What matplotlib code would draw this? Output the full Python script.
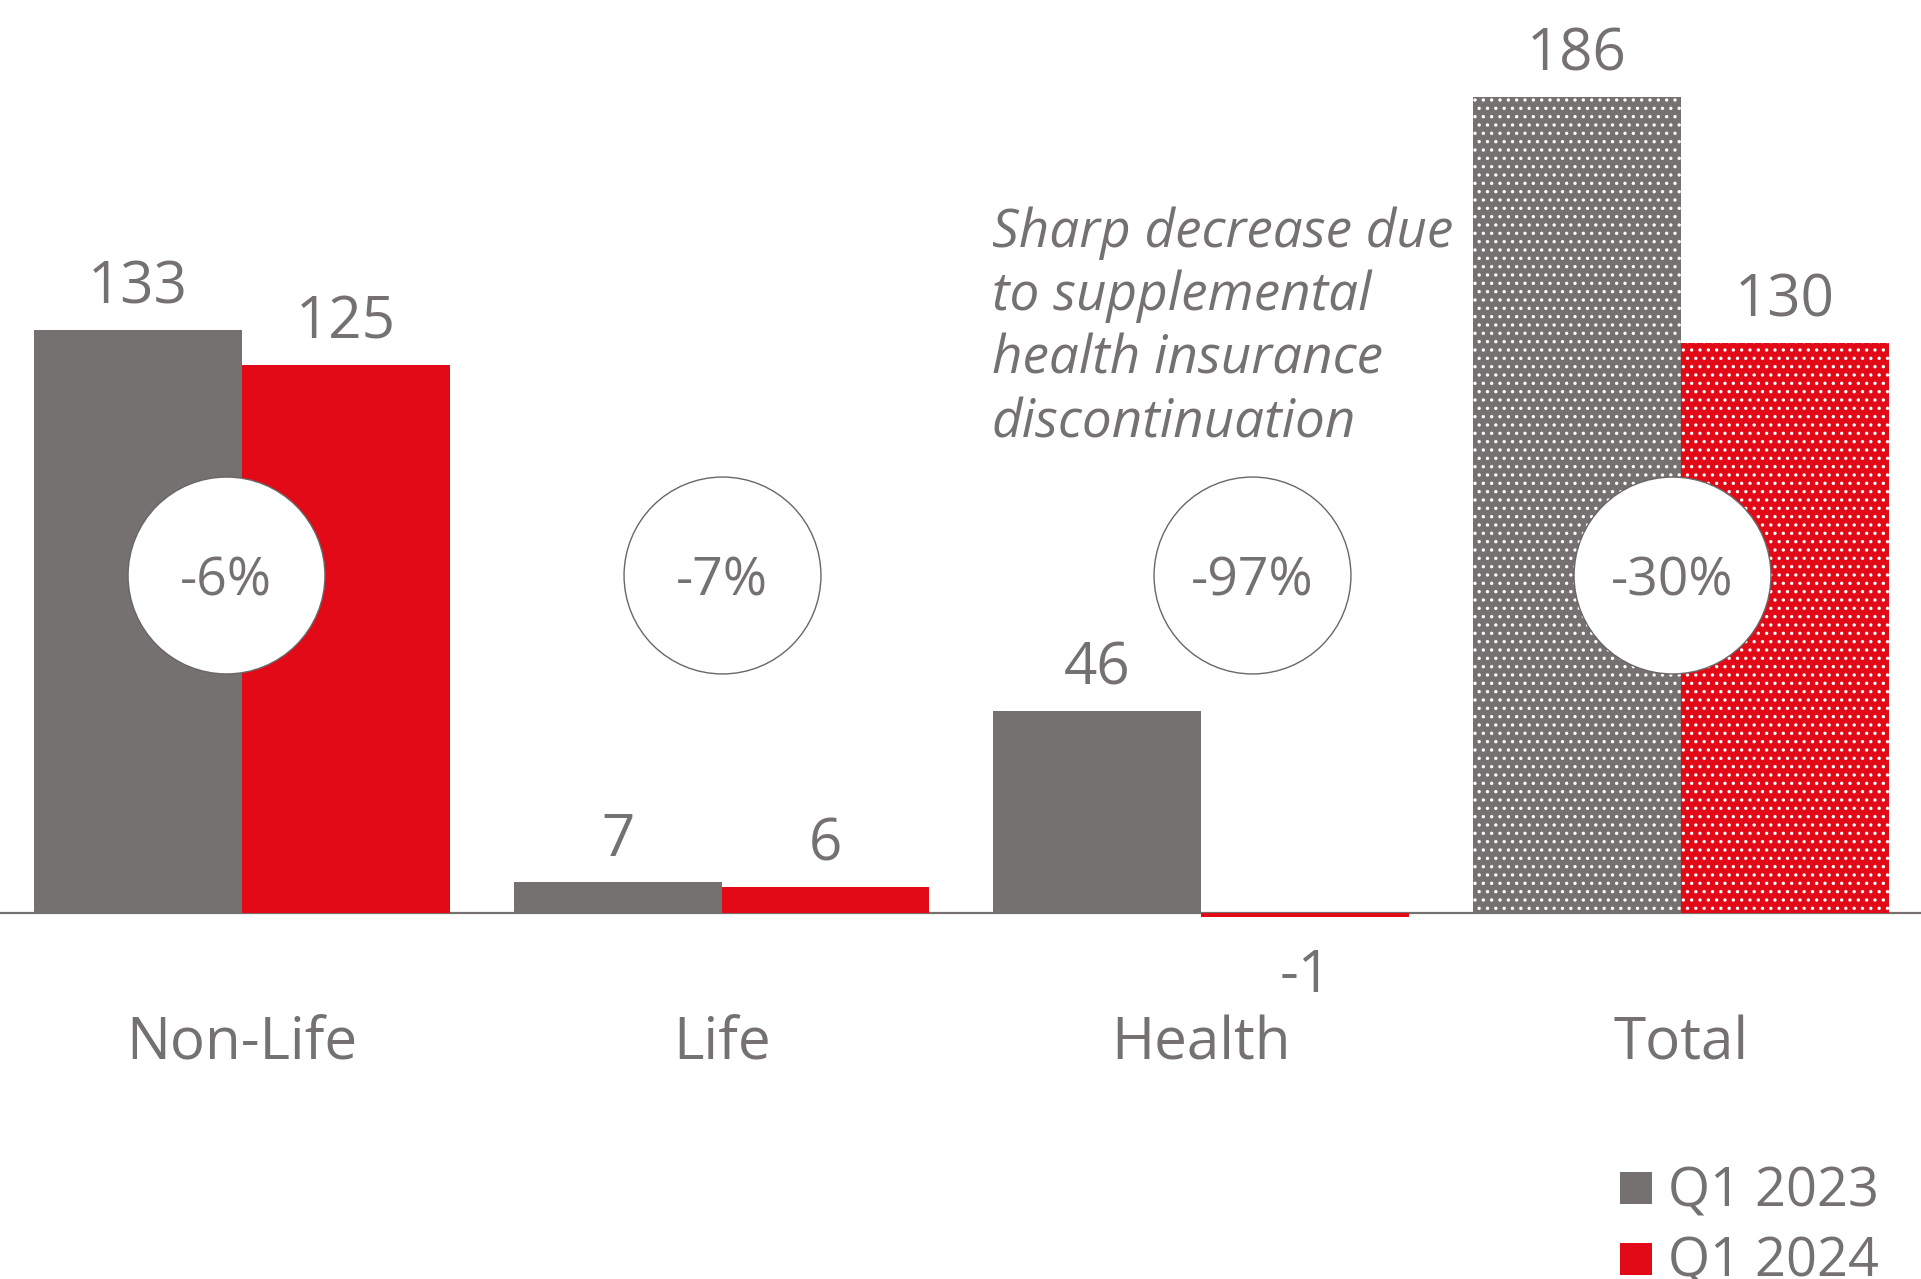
import matplotlib.pyplot as plt
import matplotlib.patches as mpatches
import numpy as np

# ── Colours ─────────────────────────────────────────────────────────
GRAY = "#767171"
RED = "#E20A17"
TEXT = "#767171"

# ── Data ────────────────────────────────────────────────────────────
categories = ["Non-Life", "Life", "Health", "Total"]
q1_2023 = [133, 7, 46, 186]
q1_2024 = [125, 6, -1, 130]
changes = ["-6%", "-7%", "-97%", "-30%"]
circle_shift = [-0.033, 0.0, 0.105, -0.018]  # small offsets of the % bubbles
hatched = [False, False, False, True]         # "Total" bars are dotted
series_labels = ["Q1 2023", "Q1 2024"]

note = "Sharp decrease due\nto supplemental\nhealth insurance\ndiscontinuation"

plt.rcParams["font.family"] = ["Open Sans", "DejaVu Sans"]
plt.rcParams["hatch.linewidth"] = 1.2

fig = plt.figure(figsize=(19.21, 12.79), dpi=100, facecolor="white")
ax = fig.add_axes([0, 0, 1, 1])
ax.set_xlim(-0.504, 3.50)
ax.set_ylim(-83.5, 208.2)
ax.axis("off")

x = np.arange(len(categories))
w = 0.4333

bars_a = ax.bar(x - w / 2, q1_2023, w, color=GRAY, edgecolor="white", linewidth=0, zorder=2)
bars_b = ax.bar(x + w / 2, q1_2024, w, color=RED, edgecolor="white", linewidth=0, zorder=2)
for bars in (bars_a, bars_b):
    for patch, h in zip(bars, hatched):
        if h:
            patch.set_hatch("..")

ax.axhline(0, color=GRAY, linewidth=1.6, zorder=1)

# ── Value labels ────────────────────────────────────────────────────
for bars, vals in ((bars_a, q1_2023), (bars_b, q1_2024)):
    for patch, v in zip(bars, vals):
        cx = patch.get_x() + patch.get_width() / 2
        off = 19 if v >= 0 else -54
        ax.annotate(f"{v}", xy=(cx, v), xytext=(0, off), textcoords="offset points",
                    ha="center", va="baseline", fontsize=42, color=TEXT)

# ── Category labels ─────────────────────────────────────────────────
for xi, c in zip(x, categories):
    ax.text(xi, -33.5, c, ha="center", va="baseline", fontsize=42, color=TEXT)

# ── Change bubbles ──────────────────────────────────────────────────
cx = x + np.array(circle_shift)
ax.scatter(cx, [77] * len(cx), s=20100, facecolor="white", edgecolor="#6b6666",
           linewidth=1.0, zorder=4)
for xi, t in zip(cx, changes):
    ax.text(xi, 77, t, ha="center", va="center_baseline", fontsize=38.5, color=TEXT, zorder=5)

# ── Annotation ──────────────────────────────────────────────────────
ax.text(1.563, 161.2, note, ha="left", va="top", fontsize=38.2, style="italic",
        color=TEXT, linespacing=1.25)

# ── Legend ──────────────────────────────────────────────────────────
for yc, yb, col, lab in ((0.0711, 0.0570, GRAY, series_labels[0]),
                         (0.0156, 0.0023, RED, series_labels[1])):
    ax.add_patch(mpatches.Rectangle((0.8433, yc - 0.0125), 0.01666, 0.025,
                                    transform=ax.transAxes, facecolor=col,
                                    edgecolor="none", clip_on=False))
    ax.text(0.8683, yb, lab, transform=ax.transAxes, ha="left", va="baseline",
            fontsize=39, color=TEXT)

fig.savefig("out.png", dpi=100, facecolor="white")
